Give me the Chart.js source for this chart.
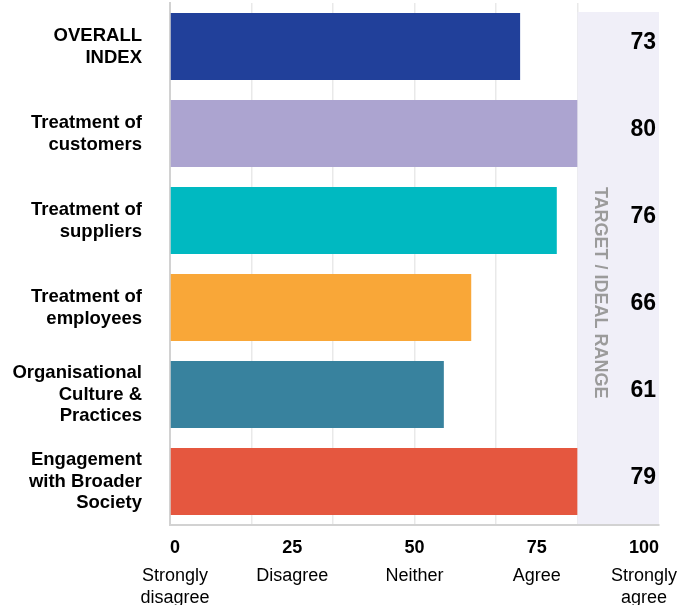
<!DOCTYPE html>
<html>
<head>
<meta charset="utf-8">
<script src="https://cdn.jsdelivr.net/npm/chart.js@4/dist/chart.umd.min.js"></script>
<style>
  body { margin: 0; background: #fff; }
  #wrap { width: 691px; height: 605px; position: relative; }
</style>
</head>
<body>
<div id="wrap"><canvas id="myChart"></canvas></div>
<script>
// data
const categories = [
  ['OVERALL', 'INDEX'],
  ['Treatment of', 'customers'],
  ['Treatment of', 'suppliers'],
  ['Treatment of', 'employees'],
  ['Organisational', 'Culture &', 'Practices'],
  ['Engagement', 'with Broader', 'Society']
];
const barValues = [71.6, 83.3, 79.1, 61.6, 56.0, 83.3];
const scores = [73, 80, 76, 66, 61, 79];
const barColors = ['#21409A', '#ACA4D0', '#00B9C1', '#F9A738', '#38829E', '#E5573F'];
const gridValues = [0, 16.67, 33.33, 50, 66.67, 83.33, 100];
const tickValues = [0, 25, 50, 75, 100];
const tickWords = [['Strongly', 'disagree'], ['Disagree'], ['Neither'], ['Agree'], ['Strongly', 'agree']];
const targetStart = 83.33;
const targetLabel = 'TARGET / IDEAL RANGE';

const FONT = '"Liberation Sans", Arial, sans-serif';
Chart.defaults.font.family = FONT;
Chart.defaults.color = '#000';

// shaded target band
const targetBand = {
  id: 'targetBand',
  beforeDatasetsDraw(chart) {
    const {ctx, chartArea, scales: {x}} = chart;
    const x0 = x.getPixelForValue(targetStart);
    const x1 = x.getPixelForValue(100);
    ctx.save();
    ctx.fillStyle = '#F0EFF8';
    ctx.fillRect(x0, chartArea.top + 9, x1 - x0, chartArea.bottom - chartArea.top - 10);
    ctx.restore();
  },
  afterDatasetsDraw(chart) {
    const {ctx, chartArea, scales: {x}} = chart;
    ctx.save();
    // rotated band label
    ctx.fillStyle = '#9b9b9b';
    ctx.font = 'bold 18px ' + FONT;
    ctx.textAlign = 'center';
    ctx.textBaseline = 'middle';
    ctx.translate(x.getPixelForValue(targetStart) + 22, chartArea.top + chartArea.height * 0.555);
    ctx.rotate(Math.PI / 2);
    ctx.fillText(targetLabel, 0, 0);
    ctx.restore();

    // score values on the right
    const meta = chart.getDatasetMeta(0);
    ctx.save();
    ctx.fillStyle = '#000';
    ctx.font = 'bold 23px ' + FONT;
    ctx.textAlign = 'right';
    ctx.textBaseline = 'middle';
    meta.data.forEach((bar, i) => {
      ctx.fillText(String(scores[i]), chartArea.right - 3, bar.y - 4);
    });
    ctx.restore();
  }
};

// bottom labels: number + word under it
const bottomLabels = {
  id: 'bottomLabels',
  afterDraw(chart) {
    const {ctx, chartArea, scales: {x}} = chart;
    ctx.save();
    ctx.fillStyle = '#000';
    ctx.textAlign = 'center';
    ctx.textBaseline = 'middle';
    tickValues.forEach((v, i) => {
      ctx.font = 'bold 18px ' + FONT;
      const txt = String(v);
      const w = ctx.measureText(txt).width;
      let cx = x.getPixelForValue(v);
      cx = Math.max(chartArea.left + w / 2, Math.min(chartArea.right - w / 2, cx));
      ctx.fillText(txt, cx, chartArea.bottom + 23);
      ctx.font = '18px ' + FONT;
      tickWords[i].forEach((line, j) => {
        ctx.fillText(line, cx, chartArea.bottom + 51 + j * 22);
      });
    });
    ctx.restore();
  }
};

const ctx = document.getElementById('myChart');
new Chart(ctx, {
  type: 'bar',
  data: {
    labels: categories,
    datasets: [{
      data: barValues,
      backgroundColor: barColors,
      borderWidth: 0,
      barPercentage: 0.77,
      categoryPercentage: 1
    }]
  },
  options: {
    indexAxis: 'y',
    responsive: true,
    maintainAspectRatio: false,
    animation: false,
    layout: { padding: { top: 3, right: 32, bottom: 0, left: 0 } },
    plugins: {
      legend: { display: false },
      tooltip: { enabled: false }
    },
    scales: {
      x: {
        type: 'linear',
        min: 0,
        max: 100,
        afterBuildTicks: (scale) => { scale.ticks = gridValues.map(v => ({ value: v })); },
        afterFit: (scale) => { scale.height = 80; scale.paddingLeft = 0; scale.paddingRight = 0; },
        ticks: { display: false },
        grid: {
          color: (c) => (c.tick && c.tick.value >= 100 ? 'rgba(0,0,0,0)' : '#e9e9e9'),
          lineWidth: 1.5,
          drawTicks: false
        },
        border: { color: '#d2d2d2', width: 2 }
      },
      y: {
        afterFit: (scale) => { scale.width = 170; scale.paddingTop = 0; scale.paddingBottom = 0; },
        ticks: {
          padding: 28,
          color: '#000',
          font: { size: 18.5, weight: 'bold', lineHeight: 1.18 }
        },
        grid: { display: false, drawTicks: false },
        border: { color: '#d2d2d2', width: 2 }
      }
    }
  },
  plugins: [targetBand, bottomLabels]
});
</script>
</body>
</html>
